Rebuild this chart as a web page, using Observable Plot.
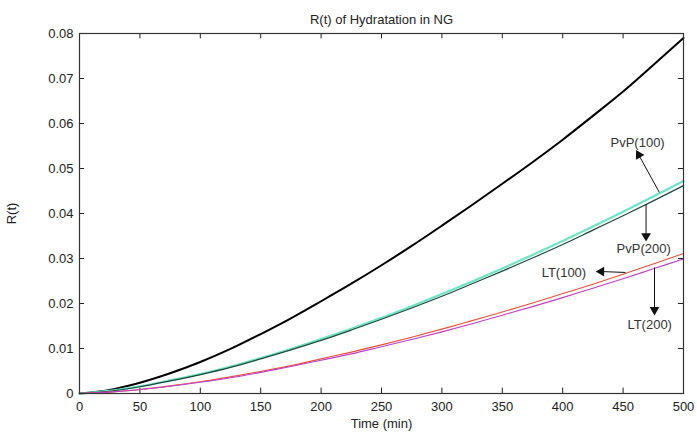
<!DOCTYPE html>
<html>
<head>
<meta charset="utf-8">
<script src="https://cdn.jsdelivr.net/npm/d3@7"></script>
<script src="https://cdn.jsdelivr.net/npm/@observablehq/plot@0.6"></script>
<style>
  html, body { margin: 0; padding: 0; background: #fff; }
  svg { display: block; }
</style>
</head>
<body>
<div id="chart"></div>
<script>
const title = "R(t) of Hydratation in NG";
const xLabel = "Time (min)";
const yLabel = "R(t)";

const time = [0, 25, 50, 75, 100, 125, 150, 175, 200, 225, 250, 275, 300, 325, 350, 375, 400, 425, 450, 475, 500];
const ngBase = [0, 0.0008, 0.0024, 0.0045, 0.0070, 0.0099, 0.0132, 0.0167, 0.0205, 0.0244, 0.0285, 0.0328, 0.0373, 0.0419, 0.0466, 0.0514, 0.0564, 0.0617, 0.0671, 0.0730, 0.0790];
const pvp100 = [0, 0.0006, 0.0016, 0.0029, 0.0043, 0.0060, 0.0079, 0.0099, 0.0121, 0.0144, 0.0168, 0.0194, 0.0221, 0.0249, 0.0278, 0.0308, 0.0339, 0.0371, 0.0404, 0.0438, 0.0472];
const pvp200 = [0, 0.0005, 0.0015, 0.0028, 0.0042, 0.0058, 0.0077, 0.0097, 0.0118, 0.0141, 0.0165, 0.0190, 0.0216, 0.0244, 0.0272, 0.0301, 0.0331, 0.0363, 0.0395, 0.0428, 0.0462];
const lt100 = [0, 0.0003, 0.0009, 0.0017, 0.0026, 0.0037, 0.0049, 0.0062, 0.0077, 0.0092, 0.0108, 0.0125, 0.0143, 0.0162, 0.0181, 0.0201, 0.0222, 0.0243, 0.0265, 0.0288, 0.0311];
const lt200 = [0, 0.0003, 0.0009, 0.0016, 0.0025, 0.0035, 0.0047, 0.0060, 0.0074, 0.0088, 0.0104, 0.0120, 0.0137, 0.0155, 0.0174, 0.0193, 0.0213, 0.0234, 0.0255, 0.0277, 0.0299];

const seriesNames = ["NG", "PvP(100)", "PvP(200)", "LT(100)", "LT(200)"];
const seriesValues = [ngBase, pvp100, pvp200, lt100, lt200];
const seriesColors = ["#000000", "#6fe3c6", "#1d4a3c", "#e8503a", "#c040c8"];
const seriesWidths = [2, 2.2, 1.2, 1.1, 1.1];

const xTicks = [0, 50, 100, 150, 200, 250, 300, 350, 400, 450, 500];
const yTicks = [0, 0.01, 0.02, 0.03, 0.04, 0.05, 0.06, 0.07, 0.08];

// annotations (data coordinates)
const annLabels = [
  {text: "PvP(100)", x: 462, y: 0.0556},
  {text: "PvP(200)", x: 467, y: 0.0322},
  {text: "LT(100)", x: 401, y: 0.0268},
  {text: "LT(200)", x: 472, y: 0.0152}
];
const annArrows = [
  {x1: 480, y1: 0.0447, x2: 463, y2: 0.0530, rotate: -29},
  {x1: 469, y1: 0.0420, x2: 469, y2: 0.0350, rotate: 180},
  {x1: 452, y1: 0.0269, x2: 432, y2: 0.0271, rotate: -90},
  {x1: 476, y1: 0.0280, x2: 476, y2: 0.0186, rotate: 180}
];

const rows = [];
seriesNames.forEach((name, i) => {
  time.forEach((t, j) => rows.push({series: name, t, r: seriesValues[i][j]}));
});

const lineMarks = seriesNames.map((name, i) =>
  Plot.line(rows.filter(d => d.series === name), {
    x: "t", y: "r", stroke: seriesColors[i], strokeWidth: seriesWidths[i], curve: "monotone-x"
  })
);

const font = "'Liberation Sans', Arial, Helvetica, sans-serif";

const chart = Plot.plot({
  width: 697,
  height: 435,
  marginLeft: 79,
  marginRight: 14,
  marginTop: 33,
  marginBottom: 42,
  style: {fontFamily: font, fontSize: "13px", color: "#222", background: "#fff"},
  x: {domain: [0, 500]},
  y: {domain: [0, 0.08]},
  marks: [
    Plot.axisX({ticks: xTicks, tickSize: 0, tickPadding: 8, label: xLabel, labelAnchor: "center", labelArrow: "none", labelOffset: 34, tickFormat: d => String(d), fontSize: 13}),
    Plot.axisY({ticks: yTicks, tickSize: 0, tickPadding: 6, label: yLabel, labelAnchor: "center", labelArrow: "none", labelOffset: 73, tickFormat: d => d === 0 ? "0" : d3.format(".2f")(d), fontSize: 13}),
    // inward ticks on all four sides
    Plot.ruleX(xTicks, {x: d => d, y1: 0, y2: 0.0012, stroke: "#222"}),
    Plot.ruleX(xTicks, {x: d => d, y1: 0.08, y2: 0.0788, stroke: "#222"}),
    Plot.ruleY(yTicks, {y: d => d, x1: 0, x2: 4.2, stroke: "#222"}),
    Plot.ruleY(yTicks, {y: d => d, x1: 500, x2: 495.8, stroke: "#222"}),
    ...lineMarks,
    Plot.link(annArrows, {x1: "x1", y1: "y1", x2: "x2", y2: "y2", stroke: "#111", strokeWidth: 1}),
    Plot.dot(annArrows, {x: "x2", y: "y2", symbol: "triangle", r: 3.6, fill: "#111", stroke: "none", rotate: "rotate"}),
    Plot.text(annLabels, {x: "x", y: "y", text: "text", fontSize: 13, fill: "#333"}),
    Plot.text([title], {frameAnchor: "top", dy: -19, fontSize: 13, fill: "#222"}),
    Plot.frame({stroke: "#333", strokeWidth: 1.2})
  ]
});
document.getElementById("chart").appendChild(chart);
</script>
</body>
</html>
